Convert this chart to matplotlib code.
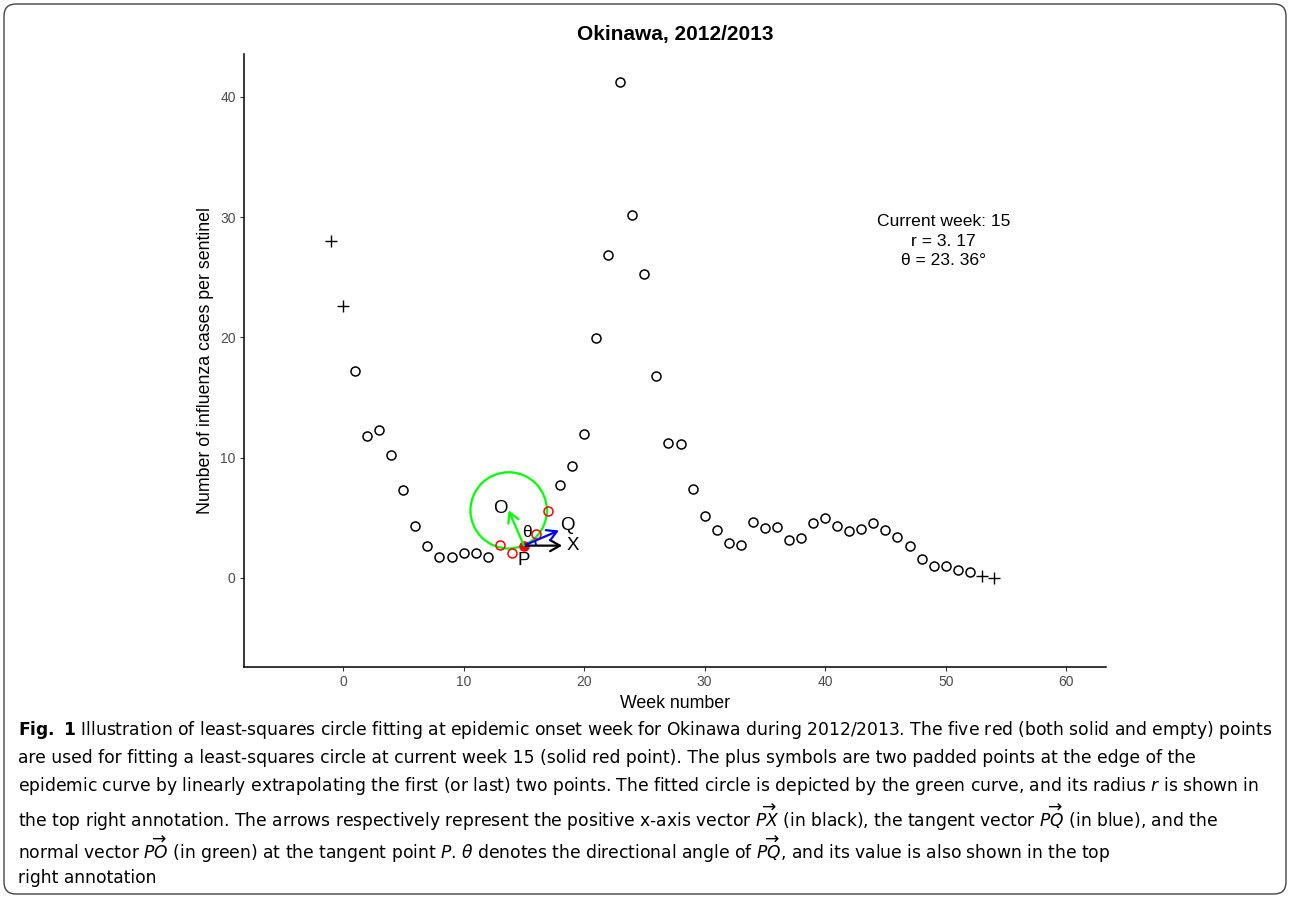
import numpy as np
import matplotlib
matplotlib.use('Agg')
import matplotlib.pyplot as plt
import matplotlib.patches as mpatches
import matplotlib.transforms as mtransforms

plt.rcParams['font.family'] = ['Liberation Sans', 'DejaVu Sans']
plt.rcParams['mathtext.fontset'] = 'dejavusans'

# epidemic curve, weekly values
weeks = list(range(1, 53))
cases = [17.2, 11.8, 12.3, 10.25, 7.3, 4.3, 2.63, 1.72, 1.77, 2.1,
         2.1, 1.72, 2.77, 2.08, 2.69, 3.68, 5.6, 7.7, 9.3, 12.0,
         19.95, 26.85, 41.25, 30.15, 25.3, 16.8, 11.2, 11.1, 7.37, 5.18,
         3.96, 2.88, 2.74, 4.68, 4.16, 4.21, 3.19, 3.35, 4.54, 5.01,
         4.35, 3.93, 4.07, 4.57, 3.96, 3.43, 2.63, 1.6, 0.97, 1.0,
         0.69, 0.47]
# padded points (plus symbols)
pad_weeks = [-1, 0, 53, 54]
pad_cases = [28.0, 22.6, 0.2, 0.0]

fit_weeks = [13, 14, 16, 17]
current_week = 15
circle_center = (13.74, 5.62)
radius = 3.17
theta_deg = 23.36

xticks = [0, 10, 20, 30, 40, 50, 60]
yticks = [0, 10, 20, 30, 40]

W, H = 1290, 898
fig = plt.figure(figsize=(W / 100, H / 100), dpi=100)
ax = fig.add_axes([244 / W, 1 - 667 / H, (1106 - 244) / W, (667 - 54) / H])
ax.set_xlim(-8.22, 63.3)
ax.set_ylim(-7.4, 43.56)

for s in ['top', 'right']:
    ax.spines[s].set_visible(False)
for s in ['left', 'bottom']:
    ax.spines[s].set_linewidth(1.1)
    ax.spines[s].set_color('black')
ax.set_xticks(xticks)
ax.set_yticks(yticks)
ax.tick_params(length=3, width=0.8, color='#333333', labelcolor='#4D4D4D',
               labelsize=10, pad=3)

wk = np.array(weeks)
cs = np.array(cases)
fit_mask = np.isin(wk, fit_weeks)
cur_mask = wk == current_week
oth = ~(fit_mask | cur_mask)

ax.plot(wk[oth], cs[oth], 'o', ms=6.5, mfc='none', mec='black', mew=1.1)
ax.plot(pad_weeks, pad_cases, '+', ms=8, color='black', mew=1.0)
ax.plot(wk[fit_mask], cs[fit_mask], 'o', ms=6.5, mfc='none', mec='red', mew=1.1)
px, py = current_week, cs[cur_mask][0]
ax.plot([px], [py], 'o', ms=6.5, mfc='red', mec='red', mew=1.1)

ax.add_patch(mpatches.Circle(circle_center, radius, fill=False,
                             edgecolor='#00FF00', lw=1.6))

th = np.deg2rad(theta_deg)
arrows = [((px + radius, py), 'black'),
          ((px + radius * np.cos(th), py + radius * np.sin(th)), '#0000FF'),
          (circle_center, '#00FF00')]
for end, col in arrows:
    ax.annotate('', xy=end, xytext=(px, py),
                arrowprops=dict(arrowstyle='->,head_length=0.7,head_width=0.4',
                                color=col, lw=1.6, shrinkA=0, shrinkB=0))
ax.add_patch(mpatches.Arc((px, py), 2.0, 2.0, theta1=0, theta2=theta_deg,
                          color='#0000FF', lw=1.4))

ax.text(circle_center[0] - 0.7, circle_center[1] + 0.17, 'O', fontsize=13.5,
        ha='center', va='center')
ax.text(px + 3.65, py + 1.66, 'Q', fontsize=13.5, ha='center', va='center')
ax.text(px + 4.07, py, 'X', fontsize=13.5, ha='center', va='center')
ax.text(px, py - 1.2, 'P', fontsize=13.5, ha='center', va='center')
ax.text(px + 0.25, py + 1.13, 'θ', fontsize=12.5, ha='center', va='center')

ax.text(49.8, 28.0, 'Current week: %d\nr = 3. 17\nθ = 23. 36°' % current_week,
        fontsize=12.6, ha='center', va='center', linespacing=1.35)

ax.set_xlabel('Week number', fontsize=12.8)
ax.xaxis.set_label_coords(0.5, -0.045)
ax.set_ylabel('Number of influenza cases per sentinel', fontsize=12.8)
ax.yaxis.set_label_coords(-0.035, 0.5)

ax.set_title('Okinawa, 2012/2013', fontsize=15, fontweight='bold', pad=10)

cap = [
    r'$\mathbf{Fig.\ 1}$ Illustration of least-squares circle fitting at epidemic onset week for Okinawa during 2012/2013. The five red (both solid and empty) points',
    'are used for fitting a least-squares circle at current week 15 (solid red point). The plus symbols are two padded points at the edge of the',
    r'epidemic curve by linearly extrapolating the first (or last) two points. The fitted circle is depicted by the green curve, and its radius $r$ is shown in',
    r'the top right annotation. The arrows respectively represent the positive x-axis vector $\overrightarrow{PX}$ (in black), the tangent vector $\overrightarrow{PQ}$ (in blue), and the',
    r'normal vector $\overrightarrow{PO}$ (in green) at the tangent point $P$. $\theta$ denotes the directional angle of $\overrightarrow{PQ}$, and its value is also shown in the top',
    'right annotation',
]
cap_y = [730, 758, 786, 818, 850, 878]
for line, y in zip(cap, cap_y):
    fig.text(18 / W, 1 - y / H, line, fontsize=12.3, ha='left', va='center',
             family='DejaVu Sans')

frame = mpatches.FancyBboxPatch((4, 4), W - 8, H - 8,
                                boxstyle='round,pad=0,rounding_size=12',
                                transform=mtransforms.IdentityTransform(),
                                fill=False, edgecolor='#444444', lw=1.0)
fig.patches.append(frame)

fig.savefig('out.png', dpi=100)
